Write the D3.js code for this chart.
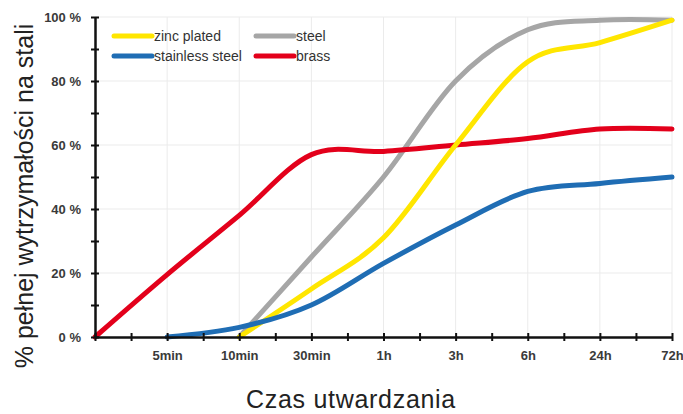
<!DOCTYPE html>
<html>
<head>
<meta charset="utf-8">
<script src="https://cdn.jsdelivr.net/npm/d3@7"></script>
<style>
  body { margin: 0; background: #fff; }
  svg { display: block; font-family: "Liberation Sans", Arial, sans-serif; }
</style>
</head>
<body>
<div id="chart"></div>
<script>
// categories along the x axis (first one is the origin, no label)
const categories = ["", "5min", "10min", "30min", "1h", "3h", "6h", "24h", "72h"];

// values in % of full strength, null = no value
const zincPlated = [null, null, 0, 15, 31, 60, 86, 92, 99];
const steel = [null, null, 0, 25, 50, 80, 96, 99, 99];
const stainlessSteel = [null, 0, 3, 10, 23, 35, 45.5, 48, 50];
const brass = [0, 19.5, 38, 57, 58, 60, 62, 65, 65];

const yTicks = [0, 10, 20, 30, 40, 50, 60, 70, 80, 90, 100];

const series = [
  { name: "steel", values: steel, color: "#a6a6a6" },
  { name: "brass", values: brass, color: "#e3001b" },
  { name: "zinc plated", values: zincPlated, color: "#ffe600" },
  { name: "stainless steel", values: stainlessSteel, color: "#1f6db4" },
];

const W = 683, H = 414;
const margin = { top: 17, right: 11, bottom: 77, left: 95 };
const w = W - margin.left - margin.right;
const h = H - margin.top - margin.bottom;

const svg = d3.select("#chart").append("svg")
  .attr("width", W)
  .attr("height", H);

const g = svg.append("g")
  .attr("transform", "translate(" + margin.left + "," + margin.top + ")");

const x = d3.scaleLinear().domain([0, categories.length - 1]).range([0, w]);
const y = d3.scaleLinear().domain([0, 100]).range([h, 0]);

// grid lines
g.append("g")
  .selectAll("line.vgrid")
  .data(d3.range(1, categories.length))
  .join("line")
  .attr("x1", d => x(d)).attr("x2", d => x(d))
  .attr("y1", 0).attr("y2", h)
  .style("stroke", "#ebebeb").style("stroke-width", 1);

g.append("g")
  .selectAll("line.hgrid")
  .data(yTicks.filter(d => d > 0 && d % 20 == 0))
  .join("line")
  .attr("x1", 0).attr("x2", w)
  .attr("y1", d => y(d)).attr("y2", d => y(d))
  .style("stroke", "#ebebeb").style("stroke-width", 1);

// lines
const line = d3.line()
  .defined(d => d.v != null)
  .x(d => x(d.i))
  .y(d => y(d.v))
  .curve(d3.curveCardinal);

series.forEach(function (s) {
  g.append("path")
    .datum(s.values.map((v, i) => ({ i: i, v: v })))
    .attr("d", line)
    .style("fill", "none")
    .style("stroke", s.color)
    .style("stroke-width", 5)
    .style("stroke-linecap", "round");
});

// x axis
const xAxis = g.append("g")
  .attr("transform", "translate(0," + h + ")")
  .call(d3.axisBottom(x)
    .tickValues(d3.range(0, categories.length - 0.5, 0.5))
    .tickFormat(d => Number.isInteger(d) ? categories[d] : "")
    .tickSize(0)
    .tickPadding(14));
xAxis.select(".domain").style("stroke", "#111").style("stroke-width", 2.5);
xAxis.selectAll(".tick").append("line")
  .attr("y1", -4).attr("y2", 4)
  .style("stroke", "#111").style("stroke-width", 2);
xAxis.selectAll("text")
  .style("font-size", "13px").style("font-weight", "bold").style("fill", "#3a3a3a");

// y axis
const yAxis = g.append("g")
  .call(d3.axisLeft(y)
    .tickValues(yTicks)
    .tickFormat(d => d % 20 == 0 ? d + " %" : "")
    .tickSize(0)
    .tickPadding(14));
yAxis.select(".domain").style("stroke", "#111").style("stroke-width", 2.5);
yAxis.selectAll(".tick").append("line")
  .attr("x1", -4).attr("x2", 4)
  .style("stroke", "#111").style("stroke-width", 2);
yAxis.selectAll("text")
  .style("font-size", "13px").style("font-weight", "bold").style("fill", "#3a3a3a");

// axis titles
svg.append("text")
  .attr("transform", "translate(33,196) rotate(-90)")
  .attr("text-anchor", "middle")
  .style("font-size", "25px")
  .style("fill", "#222")
  .text("% pełnej wytrzymałości na stali");

svg.append("text")
  .attr("x", 351)
  .attr("y", 408)
  .attr("text-anchor", "middle")
  .style("font-size", "25px")
  .style("letter-spacing", "0.7px")
  .style("fill", "#222")
  .text("Czas utwardzania");

// legend
const legendItems = [
  { name: "zinc plated", color: "#ffe600", lx: 114, ly: 36 },
  { name: "steel", color: "#a6a6a6", lx: 256, ly: 36 },
  { name: "stainless steel", color: "#1f6db4", lx: 114, ly: 56 },
  { name: "brass", color: "#e3001b", lx: 256, ly: 56 },
];
const legend = svg.append("g");
legendItems.forEach(function (d) {
  legend.append("line")
    .attr("x1", d.lx).attr("x2", d.lx + 38)
    .attr("y1", d.ly).attr("y2", d.ly)
    .style("stroke", d.color).style("stroke-width", 5)
    .style("stroke-linecap", "round");
  legend.append("text")
    .attr("x", d.lx + 40)
    .attr("y", d.ly + 5)
    .style("font-size", "14px")
    .style("fill", "#333")
    .text(d.name);
});
</script>
</body>
</html>
